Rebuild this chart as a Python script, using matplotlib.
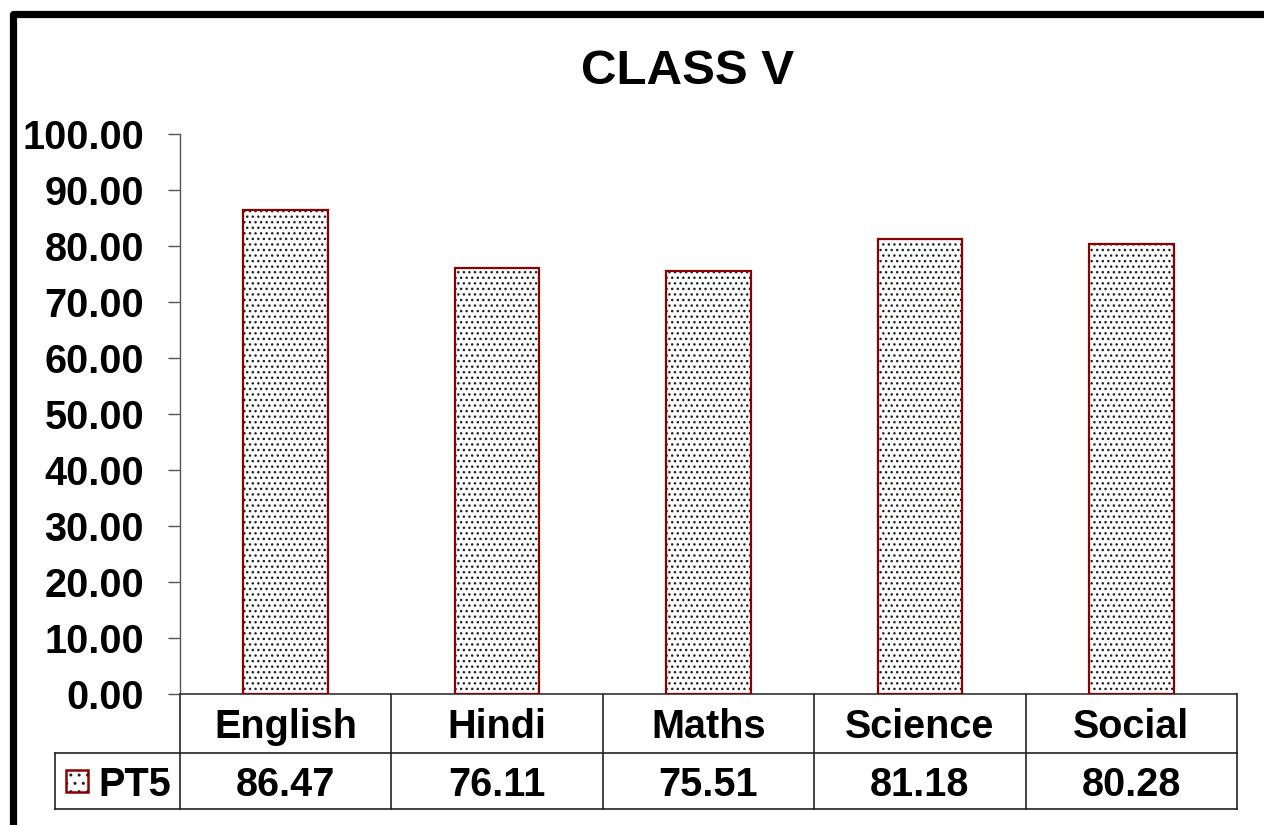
import matplotlib
matplotlib.use("Agg")
import matplotlib.pyplot as plt
from matplotlib.patches import Rectangle
from matplotlib.lines import Line2D
import matplotlib.transforms as mtransforms

categories = ["English", "Hindi", "Maths", "Science", "Social"]
values = [86.47, 76.11, 75.51, 81.18, 80.28]
series_name = "PT5"
yticks = [0, 10, 20, 30, 40, 50, 60, 70, 80, 90, 100]
title = "CLASS V"

plt.rcParams['font.family'] = ['Liberation Sans', 'DejaVu Sans']
plt.rcParams['hatch.linewidth'] = 1.0

W, H = 1264, 825
fig = plt.figure(figsize=(W / 100, H / 100), dpi=100)

def fx(px):
    return px / W

def fy(py):
    return 1 - py / H

ax_l, ax_r, ax_t, ax_b = 180, 1237, 134, 694
ax = fig.add_axes([fx(ax_l), fy(ax_b), fx(ax_r - ax_l), (ax_b - ax_t) / H])

x = list(range(len(categories)))
edge = "#8B0000"
hatch_col = "#222222"
# hatch layer
ax.bar(x, values, width=0.40, color="white", edgecolor=hatch_col, hatch="...", linewidth=0, zorder=2)
# outline layer
ax.bar(x, values, width=0.40, fill=False, edgecolor=edge, linewidth=1.6, zorder=3)

ax.set_xlim(-0.5, len(categories) - 0.5)
ax.set_ylim(0, 100)
ax.set_yticks(yticks)
ax.set_yticklabels([f"{v:.2f}" for v in yticks], fontsize=28.5, fontweight="bold")
ax.tick_params(axis="y", length=9, width=1, color="#555555", pad=17)
ax.set_xticks([])
for s in ["top", "right"]:
    ax.spines[s].set_visible(False)
ax.spines["left"].set_color("#555555")
ax.spines["bottom"].set_color("#333333")
ax.spines["left"].set_linewidth(1)
ax.spines["bottom"].set_linewidth(1.2)

# table below axes
trans = mtransforms.blended_transform_factory(ax.transData, ax.transAxes)
h_ax = ax_b - ax_t
r1 = (ax_b - 753) / h_ax
r2 = (ax_b - 809) / h_ax
x_leg = -0.5 + (55 - ax_l) / ((ax_r - ax_l) / len(categories))
xr = len(categories) - 0.5
lc = "#222222"
lw = 1.2
def seg(xs, ys):
    ax.add_line(Line2D(xs, ys, transform=trans, color=lc, linewidth=lw, clip_on=False))

seg([x_leg, xr], [r1, r1])
seg([x_leg, xr], [r2, r2])
seg([x_leg, x_leg], [r1, r2])
for k in range(len(categories) + 1):
    seg([k - 0.5, k - 0.5], [0, r2])

fs = 28.5
for i, (c, v) in enumerate(zip(categories, values)):
    ax.text(i, r1 / 2, c, transform=trans, ha="center", va="center_baseline",
            fontsize=fs, fontweight="bold")
    ax.text(i, (r1 + r2) / 2, f"{v:.2f}", transform=trans, ha="center", va="center_baseline",
            fontsize=fs, fontweight="bold")

# legend key in table
key = Rectangle((fx(66), fy(792)), fx(22), 22 / H, transform=fig.transFigure,
                facecolor="white", edgecolor=hatch_col, hatch="..", linewidth=0)
fig.patches.append(key)
key2 = Rectangle((fx(66), fy(792)), fx(22), 22 / H, transform=fig.transFigure,
                 fill=False, edgecolor=edge, linewidth=1.8)
fig.patches.append(key2)
fig.text(fx(135), fy(781), series_name, ha="center", va="center_baseline",
         fontsize=fs, fontweight="bold")

# title
fig.text(fx(688), fy(66), title, ha="center", va="center_baseline",
         fontsize=35.5, fontweight="bold")

# thick border (left and top)
fig.add_artist(Line2D([fx(12.5), fx(12.5), fx(1300)], [fy(900), fy(13.5), fy(13.5)],
                      transform=fig.transFigure, color="black", linewidth=5.2,
                      solid_joinstyle="round"))

fig.savefig("out.png", dpi=100)
